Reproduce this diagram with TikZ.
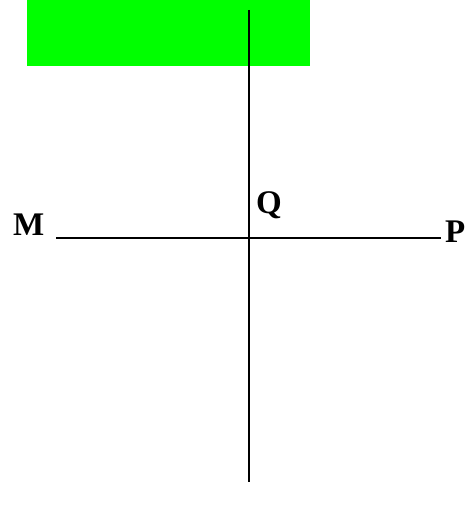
\documentclass[tikz,border=0pt]{standalone}
\usepackage{fontspec}
\setmainfont{Liberation Serif}
\begin{document}
\begin{tikzpicture}[x=1pt,y=-1pt,
  lbl/.style={inner sep=0pt,font=\fontsize{33}{36}\selectfont\bfseries,anchor=base west},
  ln/.style={line width=2pt}]
\useasboundingbox (0,0) rectangle (464,510);
\fill[green] (27,0) rectangle (310,66);
\coordinate (top) at (248.5,10);
\coordinate (bot) at (248.5,482);
\coordinate (left) at (56,238);
\coordinate (right) at (441,238);
\draw[ln] (top) -- (bot);
\draw[ln] (left) -- (right);
\node[lbl] (M) at (13,236) {M};
\node[lbl] (Q) at (256,214) {Q};
\node[lbl] (P) at (445,242) {P};
\end{tikzpicture}
\end{document}
